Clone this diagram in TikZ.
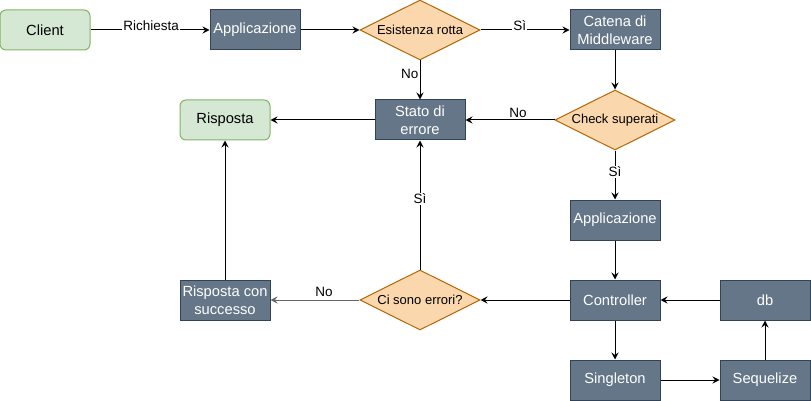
\documentclass[tikz,border=0pt]{standalone}
\usepackage{fontspec}
\setmainfont{Liberation Sans}
\usepackage{xcolor}
\usetikzlibrary{shapes.geometric,positioning,arrows.meta}
\definecolor{slate}{HTML}{647687}
\definecolor{slateline}{HTML}{314354}
\definecolor{greenfill}{HTML}{D5E8D4}
\definecolor{greenline}{HTML}{82B366}
\definecolor{orangefill}{HTML}{FAD7AC}
\definecolor{orangeline}{HTML}{B46504}
\definecolor{greyline}{HTML}{666666}

\tikzset{
    darkbox/.style={draw=slateline, fill=slate, text=white, line width=1pt, minimum width=90pt, minimum height=40pt, inner sep=1pt, align=center, font=\fontsize{14.7}{18}\selectfont},
    greenbox/.style={draw=greenline, fill=greenfill, line width=1pt, rounded corners=6pt, minimum width=90pt, minimum height=40pt, font=\fontsize{14.7}{18}\selectfont},
    choice/.style={diamond, aspect=2, draw=orangeline, fill=orangefill, line width=1pt, minimum width=120pt, minimum height=60pt, inner sep=0pt, font=\fontsize{13}{15}\selectfont},
    flow/.style={-{Stealth[length=7pt,width=7pt,inset=2.5pt]}, line width=1pt},
    lbl/.style={fill=white, inner sep=1pt, font=\fontsize{13.5}{15}\selectfont}
}

\begin{document}
\begin{tikzpicture}[x=1pt,y=-1pt]
    \useasboundingbox (0,0) rectangle (811,401);
    % boxes
    \node[greenbox] (client) at (45,30) {Client};
    \node[greenbox] (reply) at (225,120) {Risposta};
    \foreach \name/\x/\y/\txt in {app/255/30/Applicazione, chain/615/30/{Catena di\\Middleware}, error/420/120/{Stato di\\errore}, appmid/615/220/Applicazione, ctrl/615/300/Controller, ok/225/300/{Risposta con\\successo}, db/765/300/db, single/615/380/Singleton, seq/765/380/Sequelize}
        {\node[darkbox] (\name) at (\x,\y) {\txt};}
    % decisions
    \node[choice] (route) at (420,30) {Esistenza rotta};
    \node[choice] (check) at (615,120) {Check superati};
    \node[choice] (errs) at (420,300) {Ci sono errori?};
    % plain arrows
    \foreach \a/\b in {app/route, chain/check, error/reply, appmid/ctrl, ctrl/errs, ok/reply, ctrl/single, single/seq, seq/db, db/ctrl}
        {\draw[flow] (\a) -- (\b);}
    % labelled arrows
    \draw[flow] (client) -- node[lbl, pos=0.51, anchor=base, yshift=-1pt] {Richiesta} (app);
    \draw[flow] (route) -- node[lbl, pos=0.44, anchor=base, yshift=-1pt] {Sì} (chain);
    \draw[flow] (route) -- node[lbl, pos=0.35, left] {No} (error);
    \draw[flow] (check) -- node[lbl, pos=0.41, above=1pt] {No} (error);
    \draw[flow] (check) -- node[lbl, pos=0.44] {Sì} (appmid);
    \draw[flow] (errs) -- node[lbl, pos=0.55] {Sì} (error);
    \draw[flow, greyline] (errs) -- node[lbl, pos=0.4, above=2pt, text=black] {No} (ok);
\end{tikzpicture}
\end{document}
